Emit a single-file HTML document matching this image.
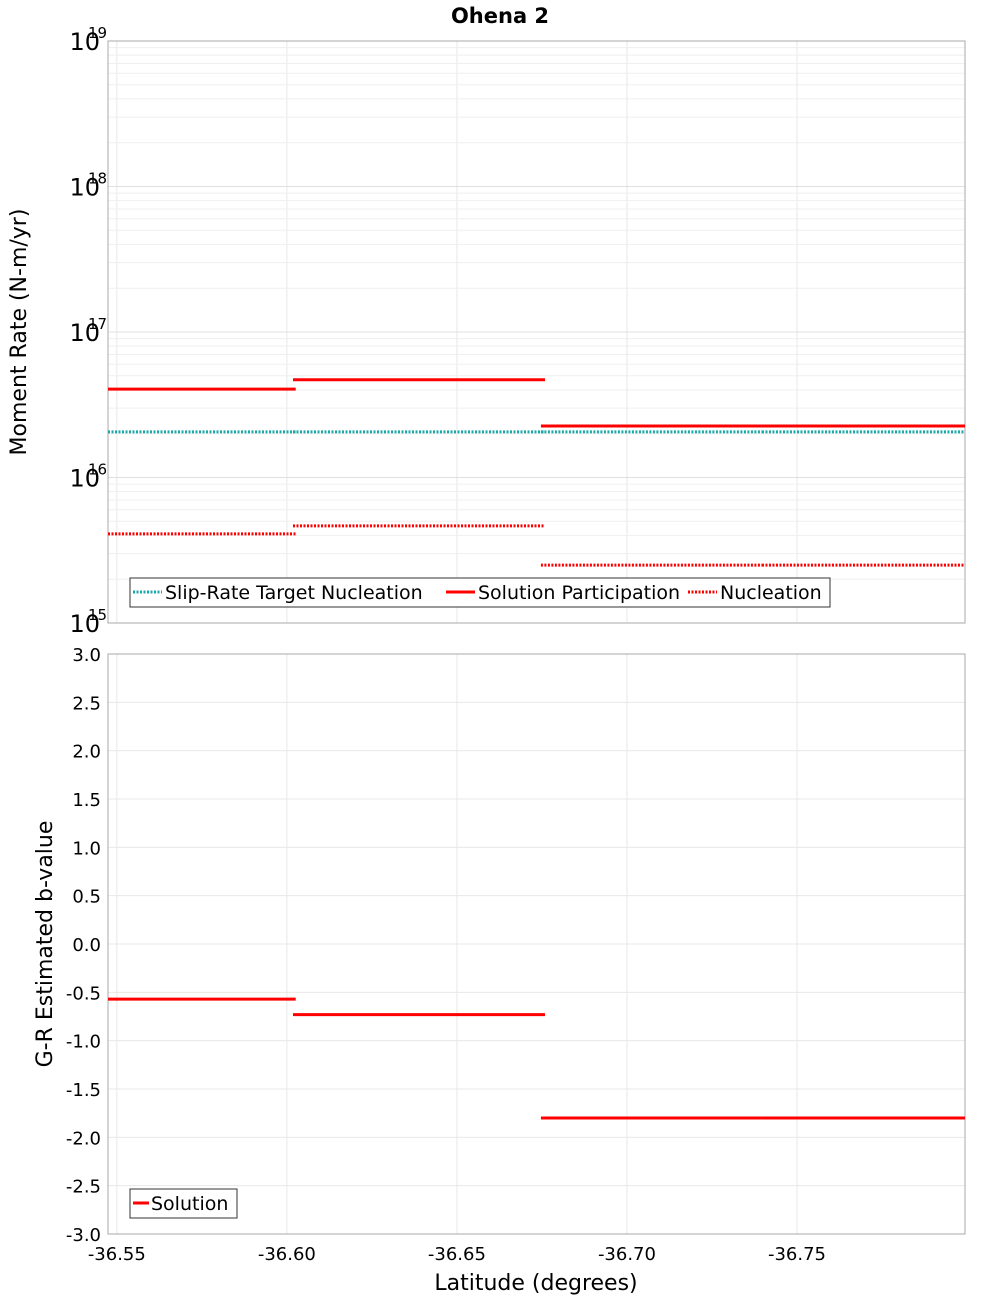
<!DOCTYPE html>
<html><head><meta charset="utf-8"><style>
html,body{margin:0;padding:0;background:#fff;}
svg{display:block;font-family:"DejaVu Sans","Liberation Sans",sans-serif;}
</style></head><body>
<svg id="chart" width="1000" height="1300" viewBox="0 0 1000 1300">
<text x="500" y="23" text-anchor="middle" font-size="21" font-weight="bold">Ohena 2</text>
<g id="topPlot"></g><g id="botPlot"></g>
</svg>
<script>
const segStart = [-36.5474, -36.6018, -36.6747, -36.7397];
const segEnd = [-36.6026, -36.6759, -36.7397, -36.7994];
const targetNuc = [2.06e16, 2.06e16, 2.06e16, 2.06e16];
const solPart = [4.05e16, 4.7e16, 2.26e16, 2.26e16];
const nucleation = [4.1e15, 4.65e15, 2.5e15, 2.5e15];
const bValues = [-0.57, -0.73, -1.80, -1.80];
const xTicks = [-36.55, -36.60, -36.65, -36.70, -36.75];
const xTickLabels = ["-36.55", "-36.60", "-36.65", "-36.70", "-36.75"];
const logExps = [15, 16, 17, 18, 19];
const bTicks = [3.0, 2.5, 2.0, 1.5, 1.0, 0.5, 0.0, -0.5, -1.0, -1.5, -2.0, -2.5, -3.0];

const NS = "http://www.w3.org/2000/svg";
const PL = 108, PR = 965;
const xMin = -36.5474, xMax = -36.7994;
const X = v => PL + (v - xMin) / (xMax - xMin) * (PR - PL);
const T1 = 41, B1 = 623, T2 = 654, B2 = 1234;
const Ylog = v => B1 - (Math.log10(v) - 15) / 4 * (B1 - T1);
const Yb = v => B2 - (v + 3) / 6 * (B2 - T2);
function mk(parent, tag, attrs, text) {
  const e = document.createElementNS(NS, tag);
  for (const k in attrs) e.setAttribute(k, attrs[k]);
  if (text !== undefined) e.textContent = text;
  parent.appendChild(e); return e;
}
const topG = document.getElementById('topPlot'), botG = document.getElementById('botPlot');

for (const t of xTicks) {
  for (const [g, a, b] of [[topG, T1, B1], [botG, T2, B2]]) {
    const l = mk(g, 'line', {x1: X(t), x2: X(t), y1: a, y2: b, stroke: '#e8e8e8', 'stroke-width': 1});
    
    
  }
}
for (let e = 15; e < 19; e++) {
  for (let m = 1; m <= 9; m++) {
    const y = Ylog(m * Math.pow(10, e));
    const l = mk(topG, 'line', {x1: PL, x2: PR, y1: y, y2: y, stroke: m === 1 ? '#e0e0e0' : '#efefef', 'stroke-width': 1});
    
    
  }
}
for (const t of bTicks) {
  const l = mk(botG, 'line', {x1: PL, x2: PR, y1: Yb(t), y2: Yb(t), stroke: '#e8e8e8', 'stroke-width': 1});
  
  
}
let f = mk(topG, 'rect', {x: PL, y: T1, width: PR - PL, height: B1 - T1, fill: 'none', stroke: '#aaa'});


f = mk(botG, 'rect', {x: PL, y: T2, width: PR - PL, height: B2 - T2, fill: 'none', stroke: '#aaa'});



function segs(g, vals, Y, color, dash, name) {
  for (let i = 0; i < vals.length; i++) {
    const a = {x1: X(segStart[i]), x2: X(segEnd[i]), y1: Y(vals[i]), y2: Y(vals[i]), stroke: color, 'stroke-width': 3};
    if (dash) a['stroke-dasharray'] = dash;
    const l = mk(g, 'line', a);
    
    
  }
}
segs(topG, targetNuc, Ylog, '#1aa8a8', '2,1.5', 'target-nucleation');
segs(topG, solPart, Ylog, '#ff0000', null, 'solution-participation');
segs(topG, nucleation, Ylog, '#ff0000', '2,1.5', 'nucleation');
segs(botG, bValues, Yb, '#ff0000', null, 'b-value');

for (const e of logExps) {
  const y = Ylog(Math.pow(10, e));
  const t = mk(topG, 'text', {x: 100, y: y + 9, 'text-anchor': 'end', 'font-size': 24}, '10');
  
  
  const s = mk(topG, 'text', {x: 88, y: y - 3, 'font-size': 15}, String(e));
  
  
}
for (const t of bTicks) {
  const tx = mk(botG, 'text', {x: 101, y: Yb(t) + 7, 'text-anchor': 'end', 'font-size': 18}, t.toFixed(1));
  
  
}
xTicks.forEach((t, i) => {
  const tx = mk(botG, 'text', {x: X(t), y: 1260, 'text-anchor': 'middle', 'font-size': 18}, xTickLabels[i]);
  
  
});
let at = mk(topG, 'text', {x: 0, y: 0, transform: 'translate(26,332) rotate(-90)', 'text-anchor': 'middle', 'font-size': 22}, 'Moment Rate (N-m/yr)');


at = mk(botG, 'text', {x: 0, y: 0, transform: 'translate(52,944) rotate(-90)', 'text-anchor': 'middle', 'font-size': 22}, 'G-R Estimated b-value');


at = mk(botG, 'text', {x: 536, y: 1290, 'text-anchor': 'middle', 'font-size': 22}, 'Latitude (degrees)');



let lg = mk(topG, 'g', {});


mk(lg, 'rect', {x: 130, y: 578, width: 700, height: 29, fill: '#fff', stroke: '#333'});
const items = [[133, '#1aa8a8', '2,1.5', 'Slip-Rate Target Nucleation'], [446, '#ff0000', null, 'Solution Participation'], [688, '#ff0000', '2,1.5', 'Nucleation']];
for (const [x, c, d, txt] of items) {
  const a = {x1: x, x2: x + 29, y1: 592, y2: 592, stroke: c, 'stroke-width': 3};
  if (d) a['stroke-dasharray'] = d;
  const ln = mk(lg, 'line', a);
  
  
  const tx = mk(lg, 'text', {x: x + 32, y: 599, 'font-size': 19}, txt);
  
  
}
lg = mk(botG, 'g', {});


mk(lg, 'rect', {x: 130, y: 1189, width: 107, height: 29, fill: '#fff', stroke: '#333'});
let ln = mk(lg, 'line', {x1: 133, x2: 149, y1: 1203, y2: 1203, stroke: '#ff0000', 'stroke-width': 3});


let tx = mk(lg, 'text', {x: 151, y: 1210, 'font-size': 19}, 'Solution');


</script>
</body></html>
